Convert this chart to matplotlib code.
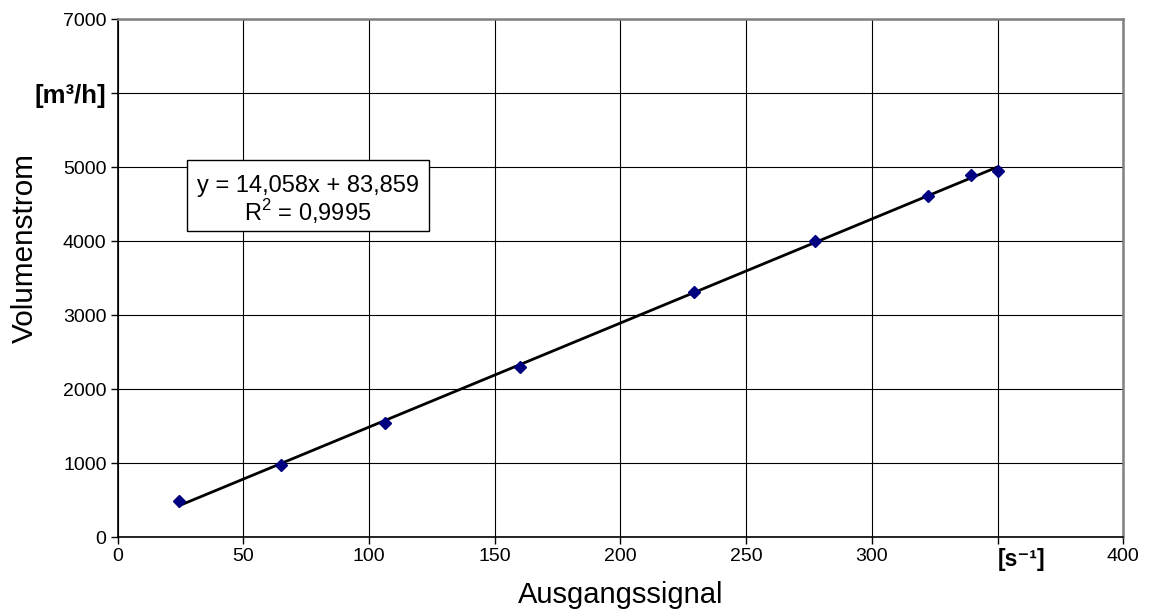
import numpy as np
import matplotlib
matplotlib.use("Agg")
import matplotlib.pyplot as plt
import matplotlib.transforms as mtransforms
from matplotlib.patches import Rectangle

plt.rcParams['font.family'] = ['Liberation Sans', 'DejaVu Sans']

# Data
signal = [24.4, 65.0, 106.4, 160.2, 229.4, 277.5, 322.5, 339.6, 350.0]
volume = [490, 977, 1545, 2301, 3315, 4004, 4612, 4896, 4950]
slope = 14.058
intercept = 83.859
x_ticks = [0, 50, 100, 150, 200, 250, 300, 350, 400]
x_tick_labels = ['0', '50', '100', '150', '200', '250', '300', '[s⁻¹]', '400']
y_ticks = [0, 1000, 2000, 3000, 4000, 5000, 6000, 7000]
y_tick_labels = ['0', '1000', '2000', '3000', '4000', '5000', '[m³/h]', '7000']
eq_line1 = "y = 14,058x + 83,859"
eq_line2 = "R$^{\\mathregular{2}}$ = 0,9995"

fig = plt.figure(figsize=(11.54, 6.16), dpi=100)
ax = fig.add_axes([0.102, 0.1278, 0.8713, 0.8409])

ax.set_xlim(0, 400)
ax.set_ylim(0, 7000)
ax.set_xticks(x_ticks)
ax.set_yticks(y_ticks)
ax.set_xticklabels(x_tick_labels, fontsize=14)
ax.set_yticklabels(y_tick_labels, fontsize=14)
offset = mtransforms.ScaledTranslation(-7 / 100, 0, fig.dpi_scale_trans)
for lbl in ax.get_xticklabels():
    if lbl.get_text().startswith('['):
        lbl.set_fontweight('bold')
        lbl.set_fontsize(16.5)
        lbl.set_horizontalalignment('left')
        lbl.set_transform(lbl.get_transform() + offset)
for lbl in ax.get_yticklabels():
    if lbl.get_text().startswith('['):
        lbl.set_fontweight('bold')
        lbl.set_fontsize(18.5)

ax.grid(True, color='black', linewidth=0.8)
ax.set_axisbelow(True)
ax.tick_params(direction='out', length=5, width=1, pad=3)
for s in ['top', 'right']:
    ax.spines[s].set_color('#808080')
    ax.spines[s].set_linewidth(1.8)
for s in ['left', 'bottom']:
    ax.spines[s].set_color('black')
    ax.spines[s].set_linewidth(1.2)

xs = np.array([min(signal), max(signal)])
ax.plot(xs, slope * xs + intercept, color='black', linewidth=2, zorder=3)
ax.plot(signal, volume, linestyle='none', marker='D', markersize=6,
        color='#000080', zorder=4)

# equation box
ax.add_patch(Rectangle((0.0689, 0.5913), 0.2408, 0.1371, transform=ax.transAxes,
                       facecolor='white', edgecolor='black', linewidth=1, zorder=5))
ax.text(0.189, 0.678, eq_line1, transform=ax.transAxes, ha='center', va='center',
        fontsize=17, zorder=6)
ax.text(0.189, 0.628, eq_line2, transform=ax.transAxes, ha='center', va='center',
        fontsize=17, zorder=6)

ax.set_xlabel('Ausgangssignal', fontsize=21, labelpad=7)
ax.set_ylabel('Volumenstrom', fontsize=21.4)
ax.yaxis.set_label_coords(-0.078, 0.558)

fig.savefig('out.png', dpi=100)
